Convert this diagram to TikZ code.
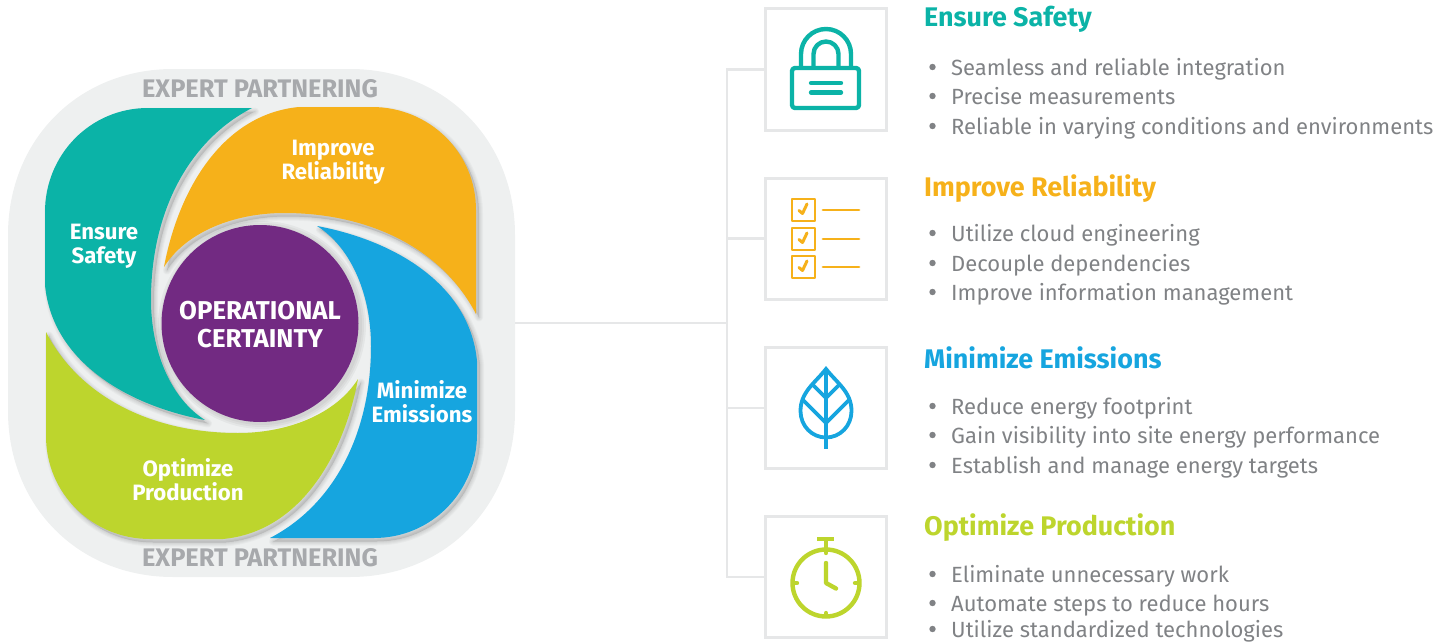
\documentclass[tikz,border=0pt]{standalone}
\usepackage{fontspec}
\setmainfont{Fira Sans}
\usetikzlibrary{positioning}
\definecolor{cteal}{HTML}{0BB3A7}
\definecolor{corange}{HTML}{F6B11A}
\definecolor{cblue}{HTML}{16A5DF}
\definecolor{cgreen}{HTML}{BDD52D}
\definecolor{cpurple}{HTML}{722A82}
\definecolor{cbg}{HTML}{EEF0F0}
\definecolor{cline}{HTML}{E6E7E8}
\definecolor{cbody}{HTML}{808285}
\definecolor{cexpert}{HTML}{A7A9AC}
\newcommand{\petalpath}{(252,108) -- (148,108) .. controls (90,108) and (45,155) .. (45,212) -- (45,285) .. controls (52,360) and (125,405) .. (205,420) .. controls (170,398) and (151,350) .. (151,300) .. controls (151,210) and (190,140) .. (252,108) -- cycle}
\newcommand{\petalshadow}[1]{%
  \foreach \w in {8,6,4,2}{
    \draw[black,opacity=0.028,line width=\w pt,line join=round,fill=black,fill opacity=0.028,shift={(3,3.5)},rotate around={#1:(261,323)}] \petalpath;
  }}
\tikzset{
  x=1pt,y=-1pt,
  boxnode/.style={draw=cline,line width=3pt,minimum width=121pt,minimum height=121pt,inner sep=0pt,fill=white},
  conn/.style={cline,line width=2.8pt},
  title/.style={anchor=base west,inner sep=0pt,font=\fontsize{26.9}{30}\selectfont\bfseries},
  item/.style={anchor=base west,inner sep=0pt,text=cbody,font=\fontsize{22}{26}\selectfont},
  bul/.style={circle,fill=cbody,inner sep=0pt,minimum size=6.4pt},
  petallabel/.style={align=center,text=white,inner sep=0pt,font=\fontsize{22.2}{23.5}\selectfont\bfseries},
  expert/.style={text=cexpert,inner sep=0pt,font=\fontsize{25.4}{28}\selectfont\bfseries},
  icon/.style={line width=4.4pt,line cap=round,line join=round},
}
\begin{document}
\begin{tikzpicture}
\useasboundingbox (0,0) rectangle (1447,642);
% background
\fill[cbg] (350,69) .. controls (445,69) and (515,140) .. (515,235) -- (515,411) .. controls (515,506) and (445,577) .. (350,577) -- (173,577) .. controls (78,577) and (8,506) .. (8,411) -- (8,235) .. controls (8,140) and (78,69) .. (173,69) -- cycle;
\coordinate (hubedge) at (515,323);
\node[expert] (ep1) at (260,89) {EXPERT PARTNERING};
\node[expert] (ep2) at (260,558) {EXPERT PARTNERING};
% petals
\petalshadow{0}\petalshadow{-90}\petalshadow{-180}\petalshadow{-270}
\fill[cteal] \petalpath;
\fill[corange,rotate around={-90:(261,323)}] \petalpath;
\fill[cblue,rotate around={-180:(261,323)}] \petalpath;
\fill[cgreen,rotate around={-270:(261,323)}] \petalpath;
\foreach \w in {6,4,2}{\fill[black,opacity=0.04] (262,325) circle ({98+\w});}
\node[circle,fill=cpurple,minimum size=197pt,inner sep=0pt] (core) at (260,323.5) {};
\node[align=center,text=white,inner sep=0pt,font=\fontsize{25.8}{28}\selectfont\bfseries] (corelabel) at (260,325) {OPERATIONAL\\CERTAINTY};
\node[petallabel] (l1) at (104,246.5) {Ensure\\Safety};
\node[petallabel] (l2) at (333,162.5) {Improve\\Reliability};
\node[petallabel] (l3) at (422,401.5) {Minimize\\Emissions};
\node[petallabel] (l4) at (188,479.5) {Optimize\\Production};
% right boxes
\node[boxnode] (b1) at (825.5,69.5) {};
\node[boxnode] (b2) at (825.5,238.5) {};
\node[boxnode] (b3) at (825.5,408) {};
\node[boxnode] (b4) at (825.5,577) {};
\coordinate (trunktop) at (727,69.5);
\coordinate (trunkbot) at (727,577);
\coordinate (t2) at (727,238.5);
\coordinate (t3) at (727,408);
\coordinate (trunkmid) at (727,323);
\draw[conn] (hubedge) -- (trunkmid);
\draw[conn,line join=miter] (b1.west) -- (trunktop) -- (trunkbot) -- (b4.west);
\draw[conn] (t2) -- (b2.west);
\draw[conn] (t3) -- (b3.west);
% lock
\begin{scope}[icon,draw=cteal]
\draw[rounded corners=3pt] (792,68) -- (859,68) -- (859,108) -- (792,108) -- cycle;
\draw[line cap=butt] (801,67) -- (801,54) arc[start angle=180,end angle=360,radius=25] -- (851,67);
\draw[line cap=butt] (813.5,67) -- (813.5,54) arc[start angle=180,end angle=360,radius=12.5] -- (838.5,67);
\draw (811,83) -- (841,83);
\draw (811,92.5) -- (841,92.5);
\end{scope}
% checklist
\begin{scope}[draw=corange,line width=2.8pt,line cap=round,line join=round]
\foreach \yy in {210,239,267}{
  \draw (792,\yy-11) rectangle (815,\yy+11);
  \draw (823,\yy) -- (859,\yy);
  \draw[line width=3pt] (799,\yy+.5) -- (802.5,\yy+3.5) -- (807,\yy-6);
}
\end{scope}
% leaf
\begin{scope}[draw=cblue,line width=3.8pt,line join=miter]
\draw (826,369) .. controls (815,383) and (800.5,392) .. (800.5,411) .. controls (800.5,426) and (812,437.5) .. (826,437.5) .. controls (840,437.5) and (851.5,426) .. (851.5,411) .. controls (851.5,392) and (837,383) .. (826,369) -- cycle;
\draw (826,369) -- (826,449);
\draw (813,385) -- (826,398) -- (839,385);
\draw (803,400) -- (826,423) -- (849,400);
\end{scope}
% stopwatch
\begin{scope}[icon,draw=cgreen]
\draw (826,583) circle (33.5);
\draw[line width=4.6pt,line cap=butt] (817,539) -- (834,539);
\draw (826,541) -- (826,553);
\draw (826,613) -- (826,616);
\draw (795,583) -- (797,583);
\draw (855,583) -- (857,583);
\draw (826,563) -- (826,583) -- (836,588.5);
\end{scope}
% texts
\node[title,text=cteal] (h1) at (924,27) {Ensure Safety};
\node[title,text=corange] (h2) at (924,196) {Improve Reliability};
\node[title,text=cblue] (h3) at (924,368) {Minimize Emissions};
\node[title,text=cgreen] (h4) at (924,535) {Optimize Production};
\foreach \yy/\tx in {67/Seamless and reliable integration,96/Precise measurements,126/Reliable in varying conditions and environments,233/Utilize cloud engineering,263/Decouple dependencies,292/Improve information management,406/Reduce energy footprint,435/Gain visibility into site energy performance,465/Establish and manage energy targets,574/Eliminate unnecessary work,603/Automate steps to reduce hours,629/Utilize standardized technologies}{
  \node[bul] at (932.5,\yy) {};
  \node[item] at (951,\yy+8) {\tx};
}
\end{tikzpicture}
\end{document}
